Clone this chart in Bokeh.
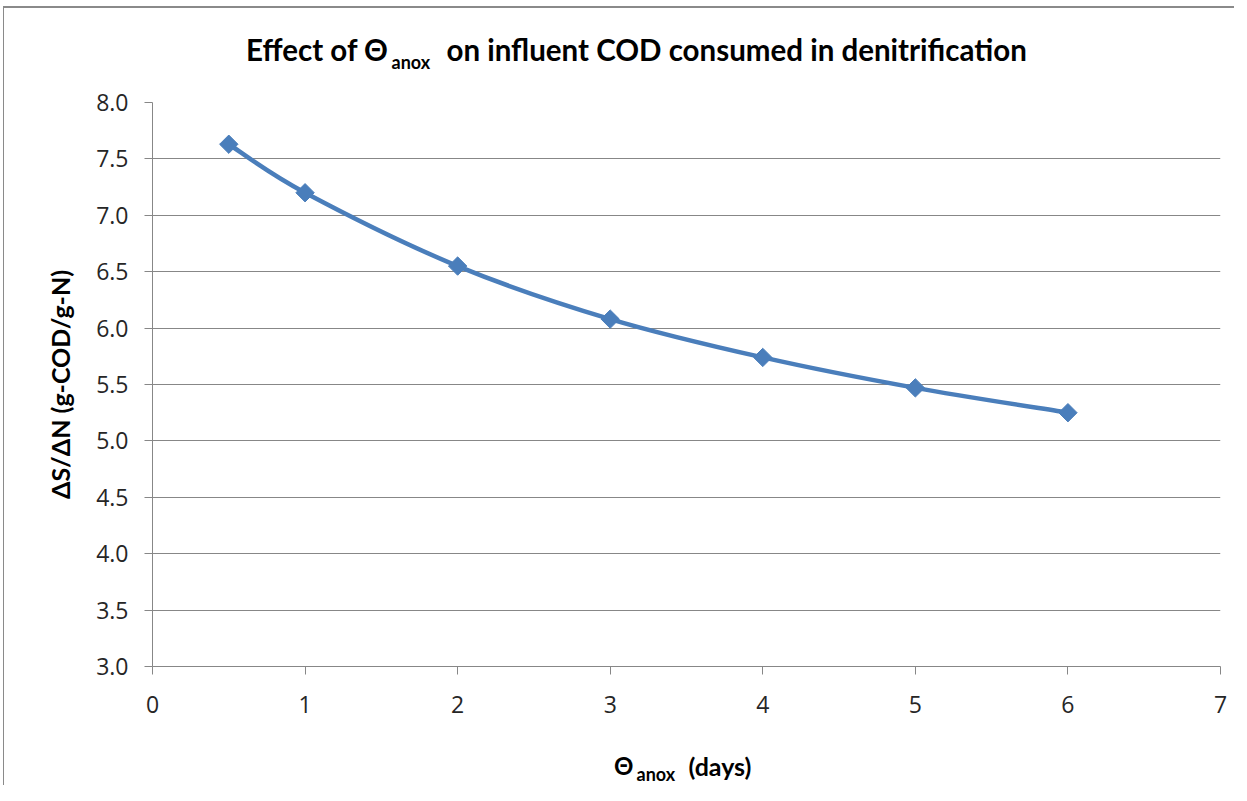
import math
from bokeh.plotting import figure
from bokeh.models import Range1d, Label, FixedTicker
from bokeh.layouts import column
from bokeh.embed import file_html
from bokeh.resources import INLINE

# ---- data ----
theta_anox = [0.5, 1, 2, 3, 4, 5, 6]
ds_dn = [7.63, 7.20, 6.55, 6.08, 5.74, 5.47, 5.25]
x_ticks = [0, 1, 2, 3, 4, 5, 6, 7]
y_ticks = [3.0, 3.5, 4.0, 4.5, 5.0, 5.5, 6.0, 6.5, 7.0, 7.5, 8.0]
title_parts = ["Effect of Θ", "anox", "on influent COD consumed in denitrification"]
xlabel_parts = ["Θ", "anox", "(days)"]
ylabel = "ΔS/ΔN (g-COD/g-N)"

BLUE = "#4A7EBB"
GRID = "#878787"
W = 1230


def text_fig(height):
    f = figure(width=W, height=height, output_backend="svg", toolbar_location=None,
               x_axis_location=None, y_axis_location=None,
               x_range=Range1d(0, W), y_range=Range1d(0, height),
               min_border=0)
    f.outline_line_color = None
    f.grid.visible = False
    f.background_fill_color = "white"
    f.border_fill_color = "white"
    return f


def text_label(f, x, y, text, size, align="left"):
    f.add_layout(Label(x=x, y=y, x_units="screen", y_units="screen", text=text,
                       text_align=align, text_baseline="alphabetic",
                       text_font="Lato", text_font_style="bold",
                       text_font_size=size, text_color="black"))


# ---- title strip ----
t = text_fig(74)
text_label(t, 236, 33, title_parts[0], "29.5px", "right")
text_label(t, 239, 21, title_parts[1], "18px")
text_label(t, 294, 33, title_parts[2], "29.5px")

# ---- main chart ----
p = figure(width=W, height=646, output_backend="svg", toolbar_location=None,
           x_range=Range1d(0, 7), y_range=Range1d(3, 8),
           min_border_left=148, min_border_right=14, min_border_top=20, min_border_bottom=62)
p.outline_line_color = None
p.background_fill_color = "white"
p.border_fill_color = "white"

p.xgrid.grid_line_color = None
p.ygrid.grid_line_color = GRID
p.ygrid.grid_line_width = 1

p.xaxis.ticker = FixedTicker(ticks=x_ticks)
p.yaxis.ticker = FixedTicker(ticks=y_ticks)
p.yaxis.major_label_overrides = {tk: f"{tk:.1f}" for tk in y_ticks}
for ax in (p.xaxis[0], p.yaxis[0]):
    ax.axis_line_color = GRID
    ax.major_tick_line_color = GRID
    ax.minor_tick_line_color = None
    ax.major_tick_in = 0
    ax.major_tick_out = 8
    ax.major_label_text_font = "Open Sans"
    ax.major_label_text_font_size = "23px"
    ax.major_label_text_color = "#262626"
p.xaxis.major_label_standoff = 21
p.yaxis.major_label_standoff = 16

p.yaxis.axis_label = ylabel
p.yaxis.axis_label_text_font = "Lato"
p.yaxis.axis_label_text_font_style = "bold"
p.yaxis.axis_label_text_font_size = "25px"
p.yaxis.axis_label_text_color = "black"
p.yaxis.axis_label_standoff = 18

# smooth curve (Bezier segments with control points derived from the data)
n = len(theta_anox)
pts = list(zip(theta_anox, ds_dn))
x0s, y0s, x1s, y1s, cx0s, cy0s, cx1s, cy1s = ([] for _ in range(8))
for i in range(n - 1):
    p_prev = pts[i - 1] if i > 0 else pts[i]
    p0 = pts[i]
    p1 = pts[i + 1]
    p_next = pts[i + 2] if i + 2 < n else pts[i + 1]
    x0s.append(p0[0]); y0s.append(p0[1])
    x1s.append(p1[0]); y1s.append(p1[1])
    cx0s.append(p0[0] + (p1[0] - p_prev[0]) / 6); cy0s.append(p0[1] + (p1[1] - p_prev[1]) / 6)
    cx1s.append(p1[0] - (p_next[0] - p0[0]) / 6); cy1s.append(p1[1] - (p_next[1] - p0[1]) / 6)
p.bezier(x0=x0s, y0=y0s, x1=x1s, y1=y1s, cx0=cx0s, cy0=cy0s, cx1=cx1s, cy1=cy1s,
         line_color=BLUE, line_width=4.5)
p.scatter(theta_anox, ds_dn, marker="square", size=13, angle=math.pi / 4,
          fill_color=BLUE, line_color=BLUE)

# ---- x-axis label strip ----
b = text_fig(57)
text_label(b, 481, 20, xlabel_parts[0], "24px", "right")
text_label(b, 484, 12, xlabel_parts[1], "18px")
text_label(b, 536, 20, xlabel_parts[2], "25px")

layout = column(t, p, b, spacing=0)
layout.styles = {"margin-left": "3px", "margin-top": "6px",
                 "border-left": "1px solid #8a8a8a", "border-top": "2px solid #8a8a8a"}

open("out.html", "w").write(file_html(layout, INLINE))
